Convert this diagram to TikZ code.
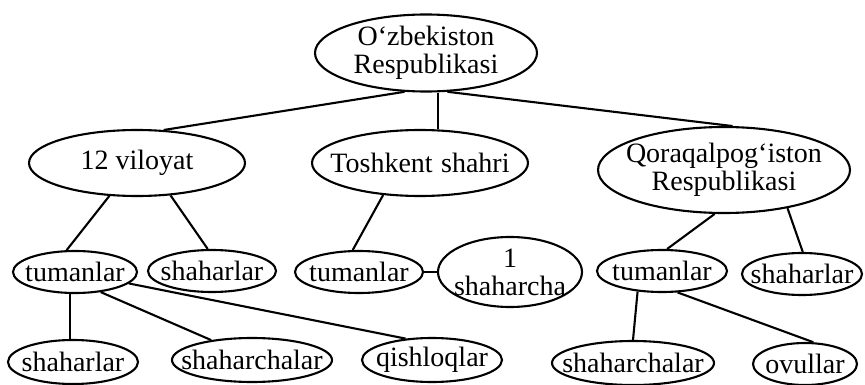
\documentclass[tikz,border=0pt]{standalone}
\usepackage{fontspec}
\setmainfont{Liberation Serif}
\usetikzlibrary{shapes.geometric}
\tikzset{
  ell/.style={draw, ellipse, line width=2.1pt, inner sep=0pt},
  lbl/.style={align=center, inner sep=0pt, font=\fontsize{28}{28}\selectfont},
  con/.style={line width=2.1pt}
}
\newcommand{\ellnode}[6]{% name, x, y, rx, ry, text
  \node[ell, minimum width=#4*2pt, minimum height=#5*2pt,
        label={[lbl]center:#6}] (#1) at (#2,#3) {};}
\begin{document}
\begin{tikzpicture}[x=1pt,y=-1pt]
\useasboundingbox (0,0) rectangle (865,385);
\ellnode{root}{426}{53}{111}{38.5}{O‘zbekiston\\Respublikasi}
\ellnode{vil}{137}{163}{108}{33}{12 viloyat}
\ellnode{tosh}{420}{163}{108}{33}{Toshkent\hspace{0.3em}shahri}
\ellnode{qor}{724}{170}{126}{43}{Qoraqalpog‘iston\\Respublikasi}
\ellnode{tumA}{75}{272}{62}{21}{tumanlar}
\ellnode{shA}{212}{271}{64}{21}{shaharlar}
\ellnode{tumB}{359}{272}{64}{21}{tumanlar}
\ellnode{shcha}{510}{272}{72}{35}{1\\shaharcha}
\ellnode{tumC}{662}{271}{65}{21}{tumanlar}
\ellnode{shC}{802}{274}{60}{21}{shaharlar}
\ellnode{shB}{73}{362}{65}{22}{shaharlar}
\ellnode{schA}{252}{360}{80}{22}{shaharchalar}
\ellnode{qish}{432}{360}{70}{22}{qishloqlar}
\ellnode{schB}{633}{363}{81}{22}{shaharchalar}
\ellnode{ovul}{805}{364}{52}{21}{ovullar}
% connectors
\draw[con] (root.241) -- (vil.51);
\draw[con] (tosh.62.5) -- (tosh.62.5 |- root.south);
\draw[con] (root.299) -- (qor.79);
\draw[con] (vil.230) -- (tumA.111);
\draw[con] (vil.316) -- (shA.101);
\draw[con] (tosh.221) -- (tumB.106);
\draw[con] (tumB.east) -- (shcha.west);
\draw[con] (qor.258) -- (tumC.77);
\draw[con] (qor.329) -- (shC.88);
\draw[con] (tumA.257) -- (tumA.257 |- shB.north);
\draw[con] (tumA.322) -- (schA.154.5);
\draw[con] (tumA.348) -- (qish.141);
\draw[con] (tumC.220) -- (schB.90);
\draw[con] (tumC.306) -- (ovul.69);
\end{tikzpicture}
\end{document}
